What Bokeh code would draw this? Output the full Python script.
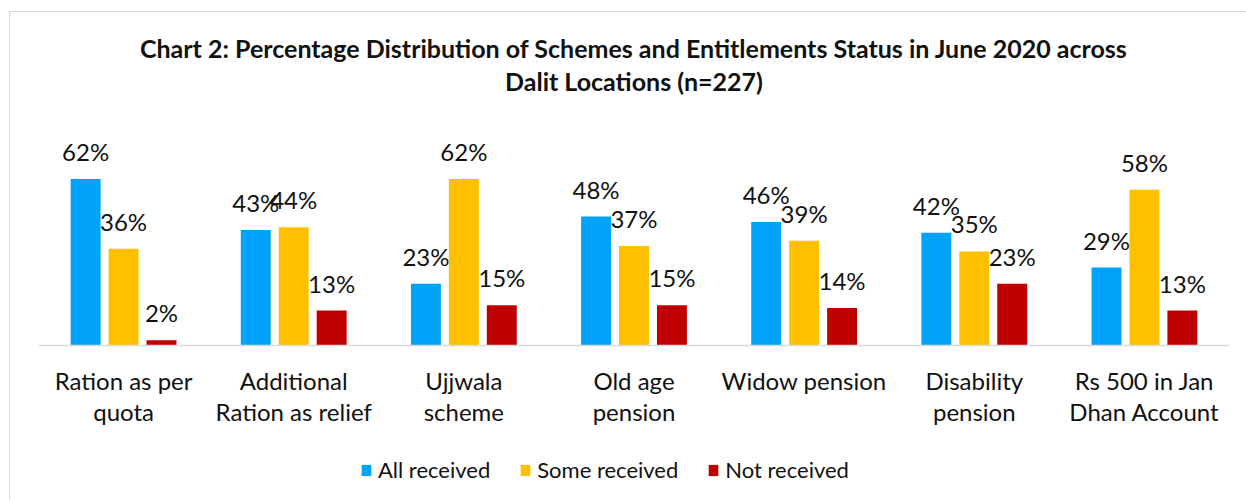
from bokeh.plotting import figure
from bokeh.models import FactorRange, Range1d, ColumnDataSource, LabelSet, Legend, LegendItem, Title
from bokeh.core.properties import value
from bokeh.transform import dodge
from bokeh.embed import file_html
from bokeh.resources import INLINE

categories = ["Ration as per\nquota", "Additional\nRation as relief", "Ujjwala\nscheme",
              "Old age\npension", "Widow pension", "Disability\npension", "Rs 500 in Jan\nDhan Account"]
series_names = ["All received", "Some received", "Not received"]
all_received = [62, 43, 23, 48, 46, 42, 29]
some_received = [36, 44, 62, 37, 39, 35, 58]
not_received = [2, 13, 15, 15, 14, 23, 13]
title_lines = ["Chart 2: Percentage Distribution of Schemes and Entitlements Status in June 2020 across",
               "Dalit Locations (n=227)"]

colors = ["#00A3FA", "#FFC000", "#C00000"]
FONT = "Lato"
TXT = "#111111"

# layout geometry (pixels)
Y_TOP = 80
PLOT_PX = 215          # pixels from the zero line up to Y_TOP
FRAME_H = 370          # frame extends below the zero line to host labels and legend
y_bottom = Y_TOP - FRAME_H * Y_TOP / PLOT_PX

src = ColumnDataSource(dict(
    cat=categories,
    a=all_received, s=some_received, n=not_received,
    a_t=[f"{v}%" for v in all_received],
    s_t=[f"{v}%" for v in some_received],
    n_t=[f"{v}%" for v in not_received],
))

p = figure(x_range=FactorRange(factors=categories, range_padding=0), y_range=Range1d(y_bottom, Y_TOP),
           frame_width=1191, frame_height=FRAME_H, output_backend="svg", toolbar_location=None, title=None,
           min_border_left=28, min_border_right=17, min_border_top=118, min_border_bottom=0)
p.margin = (11, 0, 0, 9)
p.styles = {"border-top": "1px solid #d9d9d9", "border-left": "1px solid #d9d9d9"}

offsets = [-0.223, 0.0, 0.223]
cols = ["a", "s", "n"]
renderers = []
for off, c, col in zip(offsets, cols, colors):
    r = p.vbar(x=dodge("cat", off, range=p.x_range), top=c, bottom=0, width=0.176, source=src,
               fill_color=col, line_color=None)
    renderers.append(r)
    lab = LabelSet(x=dodge("cat", off, range=p.x_range), y=c, text=c + "_t", source=src,
                   text_align="center", text_baseline="alphabetic", y_offset=18,
                   text_font=value(FONT), text_font_size=value("24px"), text_color=value(TXT))
    p.add_layout(lab)

p.yaxis.visible = False
p.xgrid.visible = False
p.ygrid.visible = False
p.outline_line_color = None
p.xaxis.fixed_location = 0
p.xaxis.axis_line_color = "#d9d9d9"
p.xaxis.axis_line_width = 1.5
p.xaxis.major_tick_line_color = None
p.xaxis.minor_tick_line_color = None
p.xaxis.major_label_text_font = FONT
p.xaxis.major_label_text_font_size = "24px"
p.xaxis.major_label_text_color = TXT
p.xaxis.major_label_text_line_height = 1.1
p.xaxis.major_label_standoff = 14

legend = Legend(items=[LegendItem(label=nm, renderers=[r]) for nm, r in zip(series_names, renderers)],
                orientation="horizontal", location=(322, 17), glyph_width=12, glyph_height=14,
                label_standoff=6, spacing=29, padding=0, margin=0, border_line_color=None,
                background_fill_alpha=0, label_text_font=FONT, label_text_font_size="22px",
                label_text_color=TXT)
p.add_layout(legend, "center")

spacer = Title(text=" ", align="center", text_font=FONT, text_font_size="1px", standoff=31)
t2 = Title(text=title_lines[1], align="center", text_font=FONT, text_font_size="25px",
           text_font_style="bold", text_color=TXT, standoff=1)
t1 = Title(text=title_lines[0], align="center", text_font=FONT, text_font_size="25px",
           text_font_style="bold", text_color=TXT, standoff=1)
p.add_layout(spacer, "above")
p.add_layout(t2, "above")
p.add_layout(t1, "above")

open("out.html", "w").write(file_html(p, INLINE))
